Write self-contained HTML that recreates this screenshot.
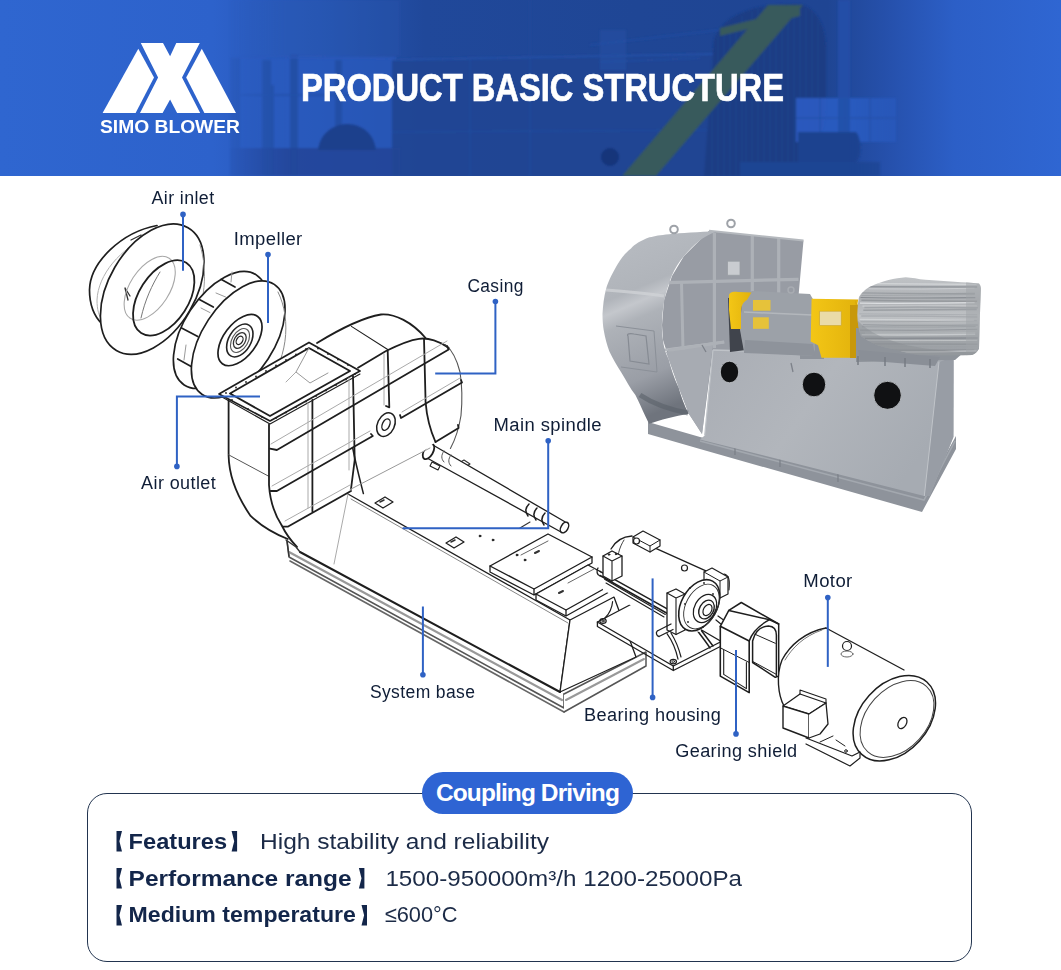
<!DOCTYPE html>
<html><head><meta charset="utf-8">
<style>
html,body{margin:0;padding:0;background:#fff;}
body{width:1061px;height:970px;position:relative;overflow:hidden;font-family:"Liberation Sans",sans-serif;}
#hdr{position:absolute;left:0;top:0;width:1061px;height:176px;overflow:hidden;background:#2d62cb;}
svg{position:absolute;left:0;top:0;}
.lbl{font-family:"Liberation Sans",sans-serif;font-size:18px;fill:#0f1d36;letter-spacing:0.4px;}
#box{position:absolute;left:87px;top:793px;width:885px;height:169px;border:1.5px solid #22344f;border-radius:20px;box-sizing:border-box;}
#pill{position:absolute;left:422px;top:772px;width:211px;height:42px;border-radius:21px;background:#2e64d3;color:#fff;font-weight:bold;font-size:24.5px;line-height:42px;text-align:center;letter-spacing:-0.9px;}
.row{position:absolute;left:113px;height:30px;line-height:30px;color:#1a2a45;font-size:21.5px;white-space:nowrap;}
.row b{font-weight:bold;color:#13264a;}
.br{display:inline-block;position:relative;width:12px;height:20px;vertical-align:middle;}
</style></head>
<body>
<div id="hdr">
<svg width="1061" height="176" viewBox="0 0 1061 176">
<defs>
<linearGradient id="hg" x1="0" x2="1" y1="0" y2="0">
<stop offset="0" stop-color="#2f66d0"/>
<stop offset="0.2" stop-color="#2d62cb"/>
<stop offset="0.235" stop-color="#2b5dc2"/>
<stop offset="0.3" stop-color="#2757b5"/>
<stop offset="0.4" stop-color="#20489a"/>
<stop offset="0.6" stop-color="#1f4695"/>
<stop offset="0.78" stop-color="#1f4593"/>
<stop offset="0.84" stop-color="#2651ad"/>
<stop offset="0.9" stop-color="#2c5fc7"/>
<stop offset="1" stop-color="#2f66d2"/>
</linearGradient>
</defs>
<rect width="1061" height="176" fill="url(#hg)"/>
<!-- header photo overlay -->
<defs><filter id="hblur" x="-5%" y="-5%" width="110%" height="110%"><feGaussianBlur stdDeviation="1.3"/></filter>
<linearGradient id="mgrad" x1="0" x2="1061" y1="0" y2="0" gradientUnits="userSpaceOnUse">
<stop offset="0.2" stop-color="#000"/><stop offset="0.27" stop-color="#fff"/><stop offset="0.8" stop-color="#fff"/><stop offset="0.9" stop-color="#000"/>
</linearGradient>
<mask id="hmask" maskUnits="userSpaceOnUse" x="0" y="0" width="1061" height="176"><rect width="1061" height="176" fill="url(#mgrad)"/></mask></defs>
<g mask="url(#hmask)"><g filter="url(#hblur)">
 <!-- top darker band in the middle -->
 <rect x="230" y="0" width="170" height="56" fill="#2552ae" opacity="0.35"/>
 <!-- window wall left -->
 <rect x="240" y="58" width="152" height="90" fill="#2a5abd" opacity="0.7"/>
 <g fill="#234ea4" opacity="0.9">
  <rect x="230" y="58" width="10" height="118"/>
  <rect x="262" y="60" width="9" height="116"/>
  <rect x="290" y="55" width="8" height="121"/>
  <rect x="335" y="60" width="7" height="90"/>
  <rect x="264" y="85" width="10" height="91"/>
 </g>
 <path d="M230 57 L396 58" stroke="#2a58b8" stroke-width="2"/>
 <path d="M240 95 L392 95" stroke="#2550aa" stroke-width="1.5"/>
 <!-- foreground bottom -->
 <rect x="230" y="148" width="170" height="28" fill="#21479a" opacity="0.9"/>
 <path d="M318 150 C320 132 335 124 347 124 C360 124 374 132 376 150 Z" fill="#1d418c"/>
 <!-- building right of window -->
 <path d="M392 60 L470 58 L720 55 L720 176 L392 176 Z" fill="#1f4592" opacity="0.8"/>
 <path d="M392 60 L720 54" stroke="#2752ab" stroke-width="1.5"/>
 <path d="M392 132 L720 130" stroke="#2650a6" stroke-width="1.2" opacity="0.7"/>
 <path d="M470 58 L470 176 M530 0 L530 176" stroke="#244da0" stroke-width="1.2" opacity="0.8"/>
 <circle cx="610" cy="157" r="9" fill="#17357a"/>
 <rect x="600" y="30" width="26" height="40" fill="#2450a3" opacity="0.6"/>
 <path d="M590 45 L720 30 M600 62 L700 58" stroke="#2550a8" stroke-width="1.5" opacity="0.7"/>
 <!-- mesh guard oval -->
 <path d="M704 176 L714 40 C722 15 755 4 795 4 C815 4 826 25 826 50 L826 110 C826 140 805 165 775 176 Z" fill="#1c3c84"/>
 <g stroke="#244a98" stroke-width="1" opacity="0.6">
  <path d="M712 60 V176 M718 34 V176 M724 26 V176 M730 30 V176 M736 22 V176 M742 16 V176 M746 20 V176 M752 12 V176 M758 8 V176 M764 6 V176 M770 5 V176 M776 5 V176 M782 5 V172 M788 5 V168 M794 5 V164 M800 5 V160 M806 7 V154 M812 12 V146 M818 20 V134"/>
 </g>
 <!-- green belt band -->
 <path d="M622 176 L656 176 L803 5 L768 5 Z" fill="#385a5c"/>
 <path d="M720 28 L800 8 L800 16 L720 36 Z" fill="#385a5c"/>
 <!-- right window -->
 <rect x="796" y="98" width="100" height="44" fill="#2b5ec6" opacity="0.85"/>
 <g stroke="#2552ac" stroke-width="1.5">
  <path d="M820 98 V142 M845 98 V142 M870 98 V142 M796 118 H896"/>
 </g>
 <!-- pole -->
 <rect x="838" y="0" width="12" height="135" fill="#2350a8" opacity="0.9"/>
 <!-- motor cylinder -->
 <path d="M798 132 L856 132 C862 138 862 158 856 162 L798 162 Z" fill="#1e428f"/>
 <rect x="740" y="162" width="140" height="14" fill="#1f4593"/>
</g></g>

</svg>
</div>
<svg width="1061" height="970" viewBox="0 0 1061 970">
<!-- ===== line drawing: inlet + impeller ===== -->
<g id="drawing1" fill="none" stroke-linejoin="round" stroke-linecap="round">
<!-- air inlet back ring -->
<path d="M157 225.5 C122 232 90 262 89.5 290 C89.5 304 94 316 102 324" stroke="#1e1e1e" stroke-width="1.7"/>
<path d="M150 236 C120 248 98 275 97 300 C97 310 99 316 102 320" stroke="#b0b0b0" stroke-width="1"/>
<ellipse cx="152.2" cy="289.1" rx="43.3" ry="71" transform="rotate(30.3 152.2 289.1)" fill="#fff" stroke="#1e1e1e" stroke-width="1.7"/>
<path d="M200 245 C208 270 206 305 190 330" stroke="#9a9a9a" stroke-width="1"/>
<path d="M130 296 l-5 -8 l3 12 M131 240 l10 -5" stroke="#333" stroke-width="1.3"/>
<ellipse cx="149.7" cy="288.3" rx="19.7" ry="35.8" transform="rotate(33 149.7 288.3)" stroke="#a8a8a8" stroke-width="1.1"/>
<ellipse cx="163.7" cy="297.9" rx="24.7" ry="41.8" transform="rotate(32.7 163.7 297.9)" stroke="#1e1e1e" stroke-width="1.8"/>
<path d="M141 318 C145 300 152 285 160 272" stroke="#777" stroke-width="1"/>

<!-- impeller -->
<ellipse cx="220.2" cy="329.9" rx="35.7" ry="65.8" transform="rotate(33.2 220.2 329.9)" fill="#fff" stroke="#1e1e1e" stroke-width="1.7"/>
<g stroke="#1e1e1e" stroke-width="1.7">
 <path d="M221 279.3 L235 287 M199.4 299.4 L213.3 307.1 M181.6 328 L197.8 336.5 M177.7 359 L191.6 366.7"/>
</g>
<path d="M216 293 L225.6 297 M201 308 L210 312.6 M186 345 l-2 15 M232 272 l-1 10" stroke="#9a9a9a" stroke-width="1"/>
<ellipse cx="238.2" cy="339.4" rx="35.7" ry="65.8" transform="rotate(33.2 238.2 339.4)" fill="#fff" stroke="#1e1e1e" stroke-width="1.7"/>
<path d="M278 292 C292 320 288 362 262 392" stroke="#888" stroke-width="1"/>
<ellipse cx="240" cy="340.1" rx="16.4" ry="29.5" transform="rotate(36.8 240 340.1)" stroke="#1e1e1e" stroke-width="1.7"/>
<ellipse cx="239.8" cy="340.5" rx="11.1" ry="17.9" transform="rotate(30.5 239.8 340.5)" stroke="#222" stroke-width="1.6"/>
<ellipse cx="240" cy="340.5" rx="8" ry="13" transform="rotate(30.5 240 340.5)" stroke="#555" stroke-width="1.1"/>
<ellipse cx="239.8" cy="340.5" rx="5.5" ry="8.5" transform="rotate(30.5 239.8 340.5)" stroke="#333" stroke-width="1.3"/>
<ellipse cx="239.6" cy="340.4" rx="3" ry="4.5" transform="rotate(30.5 239.6 340.4)" stroke="#222" stroke-width="1.2"/>
</g>
<!-- ===== casing + base + spindle ===== -->
<g id="drawing2" fill="none" stroke-linejoin="round" stroke-linecap="round">
<!-- base (drawn first) -->
<g stroke="#1e1e1e">
 <!-- skid -->
 <path d="M287 541 L289 557 L564 708 L564 694" stroke="#555" stroke-width="1.6" fill="#fff"/>
 <path d="M289 552 L562 700" stroke="#999" stroke-width="2.2"/>
 <path d="M290 561 L564 712" stroke="#666" stroke-width="1.6"/>
 <path d="M564 694 L646 652 L646 666 L564 712" stroke="#555" stroke-width="1.5" fill="#fff"/>
 <path d="M566 700 L644 659" stroke="#999" stroke-width="2"/>
 <!-- front face -->
 <path d="M348 494 L570 620 L560 692 L300 552 Z" fill="#fff" stroke="none"/>
 <path d="M348 494 L570 620 L560 692" stroke-width="1.3"/>
 <path d="M300 552 L560 692" stroke-width="2"/>
 <path d="M351 499 L568 623" stroke="#777" stroke-width="0.9"/>
 <path d="M348 494 L334 564" stroke="#aaa" stroke-width="1"/>
 <!-- right end -->
 <path d="M570 620 L614 597 L636 657 L560 692 Z" fill="#fff" stroke-width="1.3"/>
 <!-- top surface back edge -->
 
 <!-- pads -->
 <path d="M490 566 L548 534 L592 557 L534 589 Z" fill="#fff" stroke-width="1.4"/>
 <path d="M490 566 L490 572 L534 595 L592 563 L592 557 M534 589 L534 595" stroke-width="1.3"/>
 <path d="M521 555 L548 541" stroke="#666" stroke-width="1"/>
 <path d="M536 594 L588 565 L618 581 L566 610 Z" fill="#fff" stroke-width="1.4"/>
 <path d="M536 594 L536 600 L566 616 L618 587 L618 581 M566 610 L566 616" stroke-width="1.3"/>
 <path d="M568 583 L594 569" stroke="#666" stroke-width="1"/>
 <path d="M535 553 l4 -2 M559 593 l4 -2" stroke="#333" stroke-width="2"/>
 <!-- small plates on base top -->
 <path d="M375 503 L385 497 L393 502 L383 508 Z M446 543 L456 537 L464 542 L454 548 Z" fill="#fff" stroke-width="1.3"/>
 <path d="M380 502 l4 -2 M451 542 l4 -2" stroke="#333" stroke-width="1.6"/>
 <path d="M452 467 L464 460 L470 464 L458 471 Z M520 528 L530 522" stroke="#333" stroke-width="1.1"/>
 <circle cx="480" cy="536" r="0.9" fill="#222"/><circle cx="493" cy="540" r="0.9" fill="#222"/>
 <circle cx="517" cy="555" r="0.9" fill="#222"/><circle cx="525" cy="560" r="0.9" fill="#222"/>
</g>
<!-- spindle -->
<g stroke="#1e1e1e">
 <path d="M432 444.5 L567 523 L561 532 L427 458 Z" fill="#fff" stroke-width="1.3"/>
 <ellipse cx="428.5" cy="451.5" rx="4.5" ry="8.5" transform="rotate(30 428.5 451.5)" fill="#fff" stroke-width="1.8"/>
 <ellipse cx="564.5" cy="527.5" rx="3.5" ry="5.8" transform="rotate(30 564.5 527.5)" fill="#fff" stroke-width="1.5"/>
 <path d="M529 504 C525 508 525 512 528 516 M537 508 C533 512 533 516 536 520 M545 513 C541 517 541 521 544 525" stroke-width="1.5"/>
 <path d="M444 451 C441 455 441 459 444 462 M451 455 C448 459 448 463 451 466" stroke="#555" stroke-width="1"/>
 <path d="M432 462 L440 466 L438 470 L430 466 Z" stroke-width="1.1"/>
</g>
<!-- casing -->
<g stroke="#1e1e1e" stroke-width="1.8">
 <!-- silhouette fill -->
 <path d="M219 394 L309 342.4 L320 341.3 C335 332 360 318 381 314.5 C395 314 410 322 425.6 338 C435 340 442 343 448.7 347.9 C455 355 460 372 462 390.8 C462 410 458 430 450.4 448.5 L435.5 442 L372 490 L351 489 L297 546.8 L288 540 C265 527 240 505 232 480 C229 470 228.6 460 228.6 455.6 L228.6 400 Z" fill="#fff" stroke="none"/>
 <!-- back top curve -->
 <path d="M317 343 C335 332 360 318 381 314.5 C395 313.5 412 322 425.6 338"/>
 <path d="M351.4 326.4 L387.7 349.5" stroke-width="1.1"/>
 <!-- front top curve -->
 <path d="M358 367.7 L386 351 C398 345 410 340 419 338.8 C428 337.5 440 341 448.7 347.9"/>
 <!-- right outer curve (gray) -->
 <path d="M445.4 344.6 C452 350 457 360 460 372 C462 385 462.5 400 461 415.5 C459 428 455 440 450.4 448.5" stroke="#555" stroke-width="1.1"/>
 <!-- front right vertical edge -->
 <path d="M424 338.8 L425.6 402.3 C427 420 431 432 435.5 442"/>
 <!-- flange -->
 <path d="M219 394 L309 342.4 L360 371 L270 421 Z" fill="#fff" stroke-width="1.7"/>
 <path d="M222 397 L270 424 L360 374" stroke-width="1.1"/>
 <path d="M230 393.5 L309 348 L350 371 L270 416 Z" stroke-width="1.9"/>
 <g fill="#222" stroke="none">
  <circle cx="226" cy="393" r="0.9"/><circle cx="236" cy="387.5" r="0.9"/><circle cx="246" cy="382" r="0.9"/><circle cx="256" cy="376.5" r="0.9"/><circle cx="266" cy="371" r="0.9"/><circle cx="276" cy="365.5" r="0.9"/><circle cx="286" cy="360" r="0.9"/><circle cx="296" cy="354.5" r="0.9"/><circle cx="306" cy="349" r="0.9"/>
  <circle cx="318" cy="348.5" r="0.9"/><circle cx="328" cy="354" r="0.9"/><circle cx="338" cy="359.5" r="0.9"/><circle cx="348" cy="365" r="0.9"/>
  <circle cx="276" cy="418" r="0.9"/><circle cx="286" cy="412.5" r="0.9"/><circle cx="296" cy="407" r="0.9"/><circle cx="306" cy="401.5" r="0.9"/><circle cx="316" cy="396" r="0.9"/><circle cx="326" cy="390.5" r="0.9"/><circle cx="336" cy="385" r="0.9"/><circle cx="346" cy="379.5" r="0.9"/><circle cx="355" cy="374" r="0.9"/>
  <circle cx="232" cy="400" r="0.9"/><circle cx="248" cy="409" r="0.9"/><circle cx="262" cy="417" r="0.9"/>
 </g>
 <!-- inside of outlet (gray) -->
 <path d="M309 348 L296 372 L310 383 L328 373" stroke="#999" stroke-width="1"/>
 <path d="M296 372 L286 382" stroke="#aaa" stroke-width="1"/>
 <!-- outlet duct left side -->
 <path d="M228.6 400 L228.6 455.6 C229 475 236 495 250.6 515.9 C258 523 270 532 287.7 539"/>
 <path d="M228.6 454.8 L269 476.4" stroke="#555" stroke-width="1"/>
 <!-- front corner -->
 <path d="M269 424.6 L269 485 C270 500 275 515 281.5 525 C285 532 290 540 297 546.8"/>
 <!-- vertical ribs -->
 <path d="M312.4 400 L312.4 511.2"/>
 <path d="M308 403 L308 508" stroke="#aaa" stroke-width="1"/>
 <path d="M353 376 L354.7 460 L351 489" />
 <path d="M349 378 L349 470" stroke="#aaa" stroke-width="1"/>
 <path d="M387.7 351 L389.3 407.3 L386 406"/>
 <path d="M384 354 L384 405" stroke="#aaa" stroke-width="1"/>
 <!-- horizontal ribs -->
 <path d="M270 448.6 L276.9 450 L448.7 349.5 L447 346"/>
 <path d="M271 444 L447 341" stroke="#aaa" stroke-width="1"/>
 <path d="M270.7 491 L276.9 491 L372.8 436 L371 434"/>
 <path d="M272 486 L370 431" stroke="#aaa" stroke-width="1"/>
 <path d="M400 415 L401 418 L462 382.5 L461 380"/>
 <path d="M402 412 L460 378" stroke="#aaa" stroke-width="1"/>
 <path d="M283 526.7 L287.7 526.7 L351 491"/>
 <path d="M285 521 L350 485" stroke="#aaa" stroke-width="1"/>
 <path d="M435.5 442 L458.6 428 L458 425"/>
 <!-- boss -->
 <ellipse cx="386" cy="424.6" rx="8.5" ry="12.4" transform="rotate(25 386 424.6)" fill="#fff" stroke-width="1.5"/>
 <ellipse cx="386" cy="424.6" rx="3.6" ry="6" transform="rotate(25 386 424.6)" stroke-width="1.4"/>
 <!-- inner scroll side going down -->
 <path d="M352.7 448 C356 465 360 480 363.4 493.6" stroke-width="1.5"/>
 <path d="M350 489.6 L430 448" stroke="#999" stroke-width="1"/>
 
</g>
<!-- skid left end -->
<path d="M286 540 L296 547 L300 552 M289 556 L287 541" stroke="#333" stroke-width="1.4" fill="none"/>
</g>
<!-- ===== bearing housing, shield, motor ===== -->
<g id="drawing3" fill="none" stroke-linejoin="round" stroke-linecap="round">
<g stroke="#1e1e1e">
 <!-- bearing housing base plate -->
 <path d="M597.4 622 L645 597 L721.3 641.5 L673.3 666 Z" fill="#fff" stroke-width="1.4"/>
 <path d="M597.4 622 L597.4 626.5 L673.3 670.5 L721.3 646 L721.3 641.5 M673.3 666 L673.3 670.5" stroke-width="1.3"/>
 <ellipse cx="603" cy="621" rx="3.2" ry="2.3" stroke-width="1.2"/><ellipse cx="603" cy="621" rx="1.3" ry="0.9" stroke-width="0.9"/>
 <ellipse cx="673.3" cy="661.6" rx="3.2" ry="2.3" stroke-width="1.2"/><ellipse cx="673.3" cy="661.6" rx="1.3" ry="0.9" stroke-width="0.9"/>
 <!-- pedestal feet -->
 <path d="M667 633.7 C673 642 676 650 678 659.2 M671 633 C676 641 679 649 681 657" stroke-width="1.2"/>
 <path d="M697.3 630.5 C702 637 706 642 710 648 M701 630 L713 646" stroke-width="1.5"/>
 <path d="M612.6 601.7 C612 608 609 614 605 618" stroke-width="1.2"/>
 <!-- body -->
 <path d="M608 552 C613 541 622 536 632 535 L662 545 L707 571.3 L716 600 L700 632 L672 628 L603 590 L601 572 Z" fill="#fff" stroke="none"/>
 <path d="M611 549 C616 540 624 536.5 632 536" stroke-width="1.3"/>
 <path d="M643 542.6 L707 571.3" stroke-width="1.3"/>
 <path d="M624 540 C619 548 617 556 618 566" stroke="#444" stroke-width="1"/>
 <!-- oil rail / body bottom -->
 <path d="M600 571.3 L671.7 611.3 M600 575.5 L670 615" stroke-width="1.5"/>
 <path d="M604.6 579.3 L665.3 614.5 M606 583 L664 617" stroke-width="1.1"/>
 <path d="M598 568 C596 571 597 575 600 576" stroke-width="1.3"/>
 <path d="M671.7 611.3 C675 611 677 608 676 604" stroke-width="1.3"/>
 <!-- left cap block -->
 <path d="M603 556 L612 551 L622 556 L622 576 L612 581 L603 576 Z" fill="#fff" stroke-width="1.3"/>
 <path d="M603 556 L612 561 L622 556 M612 561 L612 581" stroke-width="1.1"/>
 <circle cx="609" cy="554.5" r="0.8" fill="#222"/><circle cx="616" cy="554" r="0.8" fill="#222"/>
 <!-- top cap block -->
 <path d="M633 537 L643 531 L660 540 L660 546 L650 552 L633 543 Z" fill="#fff" stroke-width="1.2"/>
 <path d="M633 537 L650 546 L660 540 M650 546 L650 552" stroke-width="1"/>
 <circle cx="636.5" cy="541" r="3" fill="#fff" stroke-width="1.2"/>
 <circle cx="684.5" cy="568" r="3" fill="#fff" stroke-width="1.2"/>
 <!-- top-right cap block -->
 <path d="M704 572 L712 568 L728 577 L728 594 L720 598 L704 589 Z" fill="#fff" stroke-width="1.2"/>
 <path d="M704 572 L720 581 L728 577 M720 581 L720 598" stroke-width="1"/>
 <path d="M724 574 C729 575 730 580 729 590" stroke-width="1.1"/>
 <!-- right cap block -->
 <path d="M667 593 L676 589 L685 594 L685 630 L676 634.5 L667 630 Z" fill="#fff" stroke-width="1.3"/>
 <path d="M667 593 L676 598 L685 594 M676 598 L676 634.5" stroke-width="1.1"/>
 <!-- pin -->
 <path d="M657.3 631 L671 624 M659 636.5 L673 629.5 M657.3 631 C655.5 632.5 656.5 636 659 636.5" stroke-width="1.3"/>
 <!-- front flange -->
 <ellipse cx="699.2" cy="605.3" rx="17.8" ry="27.6" transform="rotate(29 699.2 605.3)" fill="#fff" stroke-width="1.6"/>
 <ellipse cx="701.5" cy="606.5" rx="15.5" ry="24" transform="rotate(29 701.5 606.5)" stroke="#333" stroke-width="0.9"/>
 <ellipse cx="705" cy="608.5" rx="10.5" ry="15" transform="rotate(29 705 608.5)" stroke-width="1.2"/>
 <ellipse cx="706.5" cy="609.5" rx="7" ry="10" transform="rotate(29 706.5 609.5)" stroke-width="1.4"/>
 <ellipse cx="707.5" cy="610" rx="4" ry="6" transform="rotate(29 707.5 610)" stroke-width="1.2"/>
 <g fill="#222" stroke="none"><circle cx="690" cy="588" r="0.9"/><circle cx="704" cy="583" r="0.9"/><circle cx="713" cy="594" r="0.9"/><circle cx="714" cy="614" r="0.9"/><circle cx="703" cy="627" r="0.9"/><circle cx="688" cy="622" r="0.9"/><circle cx="685" cy="604" r="0.9"/></g>
 <path d="M716 620 L722 625 M718 616 L725 621" stroke-width="1.2"/>
 <!-- gearing shield -->
 <path d="M720.3 626.3 L728.8 610.4 L741.3 602.5 L778.7 624.0 L778.7 676.1 L775.3 677.3 L752.6 662.5 L749.2 692.6 L720.3 676.1 Z" fill="#fff" stroke="none"/>
 <path d="M720.3 626.3 L720.3 676.1 L749.2 692.6 L749.2 641.0 Z" fill="#fff" stroke-width="1.6"/>
 <path d="M720.3 626.3 L728.8 610.4 L741.3 602.5 L778.7 624.0 L778.7 676.1 L775.3 677.3 L752.6 662.5 L752.6 641.0 C754.9 631.9 760.5 626.3 768.5 626.0 C773.6 626.3 776.4 629.7 776.4 635.3 L776.4 676.1" fill="none" stroke-width="1.5"/>
 <path d="M728.8 610.4 L769.6 619.7 L778.7 624.0" fill="none" stroke-width="1.5"/>
 <path d="M749.2 641.0 C751.5 634.2 757.1 626.3 769.6 619.7" fill="none" stroke-width="1.5"/>
 <path d="M723.7 650.1 L723.7 674.4 L746.4 688.6 L746.4 662.5" fill="none" stroke-width="1.1"/>
 <path d="M720.3 647.8 L749.2 662.5" fill="none" stroke-width="1.0"/>
 <path d="M754.9 634.2 L775.3 643.3" fill="none" stroke-width="1.0"/>
 <path d="M752.6 661.4 L776.4 674.4" fill="none" stroke-width="1.0"/>
 <!-- motor -->
 <path d="M826 628 L904 670 L852 730 L880 763 L800 722 C790 715 780 700 778 682 C777 660 800 635 826 628 Z" fill="#fff" stroke="none"/>
 <path d="M826 628 C805 632 790 645 782 660 C776 675 778 695 784 706" stroke-width="1.4"/>
 <path d="M822 630 C804 636 792 648 785 660" stroke="#777" stroke-width="1"/>
 <path d="M826 628 L904 670" stroke-width="1.3"/>
 <ellipse cx="894.3" cy="718.2" rx="33.9" ry="48.7" transform="rotate(42 894.3 718.2)" fill="#fff" stroke-width="1.5"/>
 <ellipse cx="897" cy="719" rx="30" ry="44" transform="rotate(42 897 719)" stroke="#444" stroke-width="1"/>
 <ellipse cx="902.4" cy="723" rx="4" ry="6" transform="rotate(30 902.4 723)" stroke-width="1.3"/>
 <!-- eye bolt -->
 <circle cx="847" cy="646" r="4.5" fill="#fff" stroke-width="1.2"/>
 <ellipse cx="847" cy="654" rx="6" ry="3" stroke="#666" stroke-width="1"/>
 <!-- terminal box -->
 <path d="M783 706 L800 694 L826 703 L809 714 Z" fill="#fff" stroke-width="1.3"/>
 <path d="M783 706 L809 714 L809 738 L783 728 Z" fill="#fff" stroke-width="1.4"/>
 <path d="M809 714 L826 703 L828 724 L820 734 L809 738" fill="#fff" stroke-width="1.3"/>
 <path d="M800 694 L800 690 L826 699 L826 703" stroke-width="1.1"/>
 <!-- feet -->
 <path d="M806 738 L852 756 L860 752 L860 758 L850 766 L806 744" fill="#fff" stroke-width="1.2"/>
 <path d="M820 742 L833 736 M836 740 L845 746" stroke-width="1"/>
 <circle cx="846" cy="751" r="1.3" stroke-width="1"/>
</g>
</g>

<!-- ===== photo: fan ===== -->
<g id="photo">
<defs>
 <linearGradient id="scrollSide" x1="0" y1="0" x2="0.25" y2="1">
  <stop offset="0" stop-color="#b9bdc3"/>
  <stop offset="0.35" stop-color="#b0b4ba"/>
  <stop offset="0.42" stop-color="#c4c7cc"/>
  <stop offset="0.5" stop-color="#aeb2b8"/>
  <stop offset="0.8" stop-color="#9a9ea6"/>
  <stop offset="1" stop-color="#6f747d"/>
 </linearGradient>
 <linearGradient id="baseFront" x1="0" y1="0" x2="1" y2="0.4">
  <stop offset="0" stop-color="#a9adb4"/>
  <stop offset="0.5" stop-color="#b2b6bc"/>
  <stop offset="1" stop-color="#a6abb2"/>
 </linearGradient>
 <linearGradient id="motorG" x1="0" y1="0" x2="0" y2="1">
  <stop offset="0" stop-color="#c2c5c8"/>
  <stop offset="0.3" stop-color="#aeb1b5"/>
  <stop offset="0.5" stop-color="#bfc2c5"/>
  <stop offset="0.75" stop-color="#a3a7ab"/>
  <stop offset="1" stop-color="#9a9ea3"/>
 </linearGradient>
 <linearGradient id="yel" x1="0" y1="0" x2="1" y2="0">
  <stop offset="0" stop-color="#f3c616"/>
  <stop offset="1" stop-color="#e2b20c"/>
 </linearGradient>
</defs>
<!-- skid frame -->
<path d="M648 422 L700 437 L924 494 L956 436 L956 449 L922 512 L700 449 L648 434 Z" fill="#8e939b"/>
<path d="M700 441 L924 500 L955 441" stroke="#a3a8af" stroke-width="1.5" fill="none"/>
<path d="M735 446 L735 455 M780 458 L780 467 M838 472 L838 482" stroke="#7a7f87" stroke-width="1.2"/>
<!-- scroll front face (behind) -->
<path d="M709 230.7 L803.5 240.6 L798.5 296 L745 298 L746 352 L713 350 L702 434 L689 414 L679 388 L669 359 L663 340 L662 325 L664 300 L672 276 L684 256 L699 241 Z" fill="#989ca4"/>
<!-- cone lower -->
<path d="M666 352 L713 344 L702 434 L689 414 L679 388 Z" fill="#a7abb2"/>
<path d="M664 350 L724 342" stroke="#b7bbc0" stroke-width="2.5"/>
<!-- ribs on scroll front -->
<g stroke="#adb1b7" stroke-width="3.2" fill="none">
 <path d="M714.4 233 L714.4 348"/>
 <path d="M752.3 236 L752.3 296"/>
 <path d="M778.7 238 L778.7 296"/>
 <path d="M668 282.6 L798.5 279.3"/>
 <path d="M681.5 283 L683 350" stroke-width="3"/>
 <path d="M668 350.3 L724.3 342"/>
</g>
<rect x="727.6" y="261.2" width="12.4" height="14" fill="#c9ccd0" stroke="#9a9ea4" stroke-width="0.8"/>
<path d="M709 230.7 L803.5 240.6" stroke="#b5b9be" stroke-width="2"/>
<!-- scroll side -->
<path d="M716 231 C700 232 680 233 669 234.2 C660 235 655 236 649.5 237.3 C640 241 635 244 631 248.5 C624 254 620 260 616 267 C611 276 608 282 606 289.3 C604 297 603 305 602.5 314 C602.5 320 603 326 603.7 330 C605 338 607 345 609.4 351.6 C613 359 617 366 621 371.9 C626 380 630 388 635.4 395 C639 402 642 409 645.5 416.6 L649 423.8 C660 420 675 416 688.8 413.7 C684 405 681 396 678.7 387.7 C674 378 671 368 668.6 358.9 C665 352 663.5 346 663 340 C662 335 661.9 330 661.9 325 C662 316 663 308 664.3 300.4 C666 292 669 283 671.8 275.7 C675 268 679 262 684 256 C689 250 694 245 699 241 C704 237 710 234 716 231.8 Z" fill="url(#scrollSide)"/>
<path d="M606 290 C630 292 650 294 664 296" stroke="#cfd2d6" stroke-width="3" fill="none" opacity="0.8"/>
<path d="M640 395 C655 405 672 410 688 413" stroke="#5a6069" stroke-width="5" fill="none" opacity="0.6"/>
<!-- access door -->
<path d="M616 326 L654 331 L657 372 L621 367" fill="none" stroke="#8b9098" stroke-width="1"/>
<path d="M628 336 C626 334 630 333 634 334 L646 336 L649 364 L630 361 Z" fill="none" stroke="#868b93" stroke-width="1.2"/>
<!-- lugs -->
<circle cx="674" cy="229.5" r="3.8" fill="none" stroke="#9ea2a8" stroke-width="2"/>
<circle cx="731" cy="223.5" r="3.8" fill="none" stroke="#9ea2a8" stroke-width="2"/>
<!-- base front face -->
<path d="M713 350 L939 357 L953.6 357 L953.4 437 L929.6 496 L924.3 496 L700 439.4 L704.7 435.4 Z" fill="url(#baseFront)"/>
<path d="M939 362 L953.6 357 L953.4 437 L929.6 496 L924.3 496 Z" fill="#989da5"/>
<path d="M939 362 L924.3 496" stroke="#c0c4c9" stroke-width="1" fill="none"/>
<path d="M713 350 L953 357" stroke="#bfc3c8" stroke-width="1.5" fill="none"/>
<path d="M713 350 L704.7 435.4" stroke="#bfc3c8" stroke-width="1.2" fill="none"/>
<path d="M800 336 L824 336 L824 359 L800 359 Z" fill="#8e939b"/>
<!-- bearing housing -->
<path d="M728 298 L746 296 L746 350 L730 352 Z" fill="#40444c"/>
<path d="M742 296 L752 291 L810 294 L814 301 L815 350 L812 356 L744 352 L740 330 Z" fill="#9ca1a8"/>
<path d="M745 340 L813 344 L815 356 L744 353 Z" fill="#8e939b"/>
<path d="M744 312 L812 315" stroke="#b3b7bc" stroke-width="1.5" fill="none"/>
<rect x="753" y="300" width="17.5" height="10.7" fill="#e6c23a"/>
<rect x="753" y="317.3" width="15.8" height="11.5" fill="#e6c23a"/>
<circle cx="791" cy="290" r="3" fill="none" stroke="#a8acb2" stroke-width="1.5"/>
<!-- yellow left guard -->
<path d="M729 296 C729 292 733 291.5 738 292 L751.5 292.5 L747 300 C743 302 741 306 741 312 L741 329 L731 329 L729 310 Z" fill="url(#yel)"/>
<!-- coupling guard -->
<path d="M811.6 298.7 L858.2 299.5 L856 312 L853.7 347 L850 357.7 L821.5 357.7 L818 345.2 L810.7 341.6 Z" fill="url(#yel)"/>
<path d="M855 300 L862 312 L866 350 L861.9 349.7 Z" fill="#d8a808"/>
<rect x="819.7" y="311.2" width="21.5" height="14.3" fill="#eadba8" stroke="#c9a530" stroke-width="0.6"/>
<!-- behind motor -->
<path d="M850 305 L866 305 L866 358 L850 358 Z" fill="#c8980a"/>
<path d="M856 328 L978 340 L955 360 L856 362 Z" fill="#8e939a"/>
<!-- motor feet -->
<path d="M858 350 L940 357 L935 366 L860 360 Z" fill="#8a8f97"/>
<path d="M858 356 L858 365 M885 357 L885 366 M905 358 L905 367 M930 359 L930 368" stroke="#777c84" stroke-width="1.5"/>
<!-- motor -->
<clipPath id="motorClip"><path d="M859 296.9 C863 291 867 288 871.6 286 C882 281 895 278 905.7 277.2 C912 277.5 918 279 925.4 279.8 C945 281 965 282.5 979 283.4 C981 286 981 288 980.9 289.7 C980 310 979.5 330 979 348.8 C977 352 975 354 972 355 C950 355.5 930 355 914.6 354.2 C900 351 888 348 877 345.2 C870 342 865 339 860.9 336.3 C858.5 330 857.5 322 857.3 314.8 C857.5 308 858 302 859 296.9 Z"/></clipPath>
<g clip-path="url(#motorClip)">
<rect x="855" y="275" width="128" height="82" fill="url(#motorG)"/>
<path d="M868.3 283.6 Q922.4 283.9 976.5 284.4" stroke="#e2e4e6" stroke-width="1.22" opacity="0.64" fill="none"/>
<path d="M868.3 286.7 Q922.8 286.6 977.2 286.9" stroke="#7f848a" stroke-width="1.45" opacity="0.64" fill="none"/>
<path d="M868.8 288.8 Q921.7 289.7 974.5 288.2" stroke="#e2e4e6" stroke-width="0.71" opacity="0.59" fill="none"/>
<path d="M859.3 292.8 Q917.1 294.0 974.9 293.3" stroke="#8c9095" stroke-width="1.35" opacity="0.64" fill="none"/>
<path d="M861.4 295.5 Q918.1 295.1 974.8 294.5" stroke="#9a9ea3" stroke-width="0.82" opacity="0.88" fill="none"/>
<path d="M860.5 297.5 Q917.9 298.5 975.3 297.6" stroke="#7f848a" stroke-width="1.08" opacity="0.83" fill="none"/>
<path d="M861.4 300.3 Q919.3 301.3 977.1 301.2" stroke="#8c9095" stroke-width="1.54" opacity="0.74" fill="none"/>
<path d="M860.0 303.2 Q917.3 303.8 974.6 302.6" stroke="#e2e4e6" stroke-width="1.21" opacity="0.85" fill="none"/>
<path d="M862.4 306.1 Q919.7 306.1 976.9 305.8" stroke="#d6d8da" stroke-width="1.27" opacity="0.64" fill="none"/>
<path d="M864.4 307.6 Q921.2 306.2 977.9 307.8" stroke="#9a9ea3" stroke-width="1.49" opacity="0.78" fill="none"/>
<path d="M863.3 310.3 Q920.0 309.7 976.7 309.4" stroke="#8c9095" stroke-width="1.60" opacity="0.65" fill="none"/>
<path d="M859.2 313.9 Q918.2 314.4 977.2 314.8" stroke="#9a9ea3" stroke-width="0.94" opacity="0.55" fill="none"/>
<path d="M861.2 316.1 Q919.3 315.8 977.4 316.9" stroke="#9a9ea3" stroke-width="1.48" opacity="0.59" fill="none"/>
<path d="M859.6 319.4 Q916.9 320.0 974.1 320.3" stroke="#e2e4e6" stroke-width="1.27" opacity="0.54" fill="none"/>
<path d="M860.5 321.7 Q918.7 321.9 976.8 320.7" stroke="#8c9095" stroke-width="1.07" opacity="0.41" fill="none"/>
<path d="M862.8 324.7 Q920.3 325.9 977.8 324.9" stroke="#7f848a" stroke-width="1.02" opacity="0.57" fill="none"/>
<path d="M861.9 326.8 Q918.8 327.2 975.6 326.4" stroke="#7f848a" stroke-width="1.03" opacity="0.41" fill="none"/>
<path d="M860.1 330.1 Q918.7 330.9 977.3 329.3" stroke="#8c9095" stroke-width="0.94" opacity="0.82" fill="none"/>
<path d="M864.8 333.1 Q920.0 334.0 975.3 332.6" stroke="#c4c7ca" stroke-width="0.90" opacity="0.56" fill="none"/>
<path d="M861.6 334.8 Q918.4 335.3 975.2 334.2" stroke="#d6d8da" stroke-width="1.55" opacity="0.70" fill="none"/>
<path d="M864.8 338.5 Q921.2 338.3 977.7 337.9" stroke="#7f848a" stroke-width="1.50" opacity="0.73" fill="none"/>
<path d="M862.2 340.1 Q919.7 341.0 977.2 340.4" stroke="#e2e4e6" stroke-width="0.95" opacity="0.49" fill="none"/>
<path d="M861.1 343.9 Q919.3 343.8 977.5 344.2" stroke="#8c9095" stroke-width="1.46" opacity="0.66" fill="none"/>
<path d="M868.4 345.8 Q923.1 347.1 977.9 346.5" stroke="#9a9ea3" stroke-width="0.70" opacity="0.48" fill="none"/>
<path d="M867.6 349.6 Q920.9 350.6 974.2 349.9" stroke="#7f848a" stroke-width="1.37" opacity="0.51" fill="none"/>
<path d="M866.7 351.5 Q921.7 352.9 976.6 350.8" stroke="#c4c7ca" stroke-width="1.47" opacity="0.83" fill="none"/>
<rect x="966" y="280" width="16" height="78" fill="#9fa3a8" opacity="0.5"/>
<path d="M857 320 C880 345 930 352 980 352 L980 358 L857 358 Z" fill="#8a8e93" opacity="0.45"/>
</g>
<!-- holes -->
<ellipse cx="729.5" cy="372" rx="9.2" ry="10.8" fill="#101113" stroke="#c8cbcf" stroke-width="0.8"/>
<ellipse cx="814" cy="384.5" rx="11.7" ry="12.3" fill="#101113" stroke="#c8cbcf" stroke-width="0.8"/>
<ellipse cx="887.5" cy="395.3" rx="13.8" ry="14" fill="#101113" stroke="#c8cbcf" stroke-width="0.8"/>
<path d="M702 345 L706 352 M791 363 L793 372" stroke="#7d828a" stroke-width="1.3"/>
</g>

<!-- logo -->
<g fill="#fff">
<polygon points="102.6,113.1 138.3,48.7 154,77.6 135.6,113.1"/>
<polygon points="140.8,43.1 163,43.1 170.1,56.2 176.3,43.1 199.8,43.1 182,77.6 200.2,113.1 177.1,113.1 170.1,99.5 162.6,113.1 140,113.1 158.1,77.6"/>
<polygon points="201.8,48.7 236,113.1 204.4,113.1 186.2,77.6"/>
</g>
<text x="100" y="133" fill="#fff" font-family="Liberation Sans" font-weight="bold" font-size="19" textLength="140" lengthAdjust="spacingAndGlyphs">SIMO BLOWER</text>
<text x="301" y="101" fill="#fff" stroke="#fff" stroke-width="0.7" font-family="Liberation Sans" font-weight="bold" font-size="38.5" textLength="483" lengthAdjust="spacingAndGlyphs">PRODUCT BASIC STRUCTURE</text>

<!-- labels -->
<g class="lbl">
<text x="151.5" y="204" textLength="63" lengthAdjust="spacingAndGlyphs">Air inlet</text>
<text x="233.7" y="244.5" textLength="69" lengthAdjust="spacingAndGlyphs">Impeller</text>
<text x="467.4" y="291.5" textLength="56.4" lengthAdjust="spacingAndGlyphs">Casing</text>
<text x="493.6" y="430.8" textLength="108.4" lengthAdjust="spacingAndGlyphs">Main spindle</text>
<text x="141.1" y="489.3" textLength="75" lengthAdjust="spacingAndGlyphs">Air outlet</text>
<text x="369.9" y="697.5" textLength="105.5" lengthAdjust="spacingAndGlyphs">System base</text>
<text x="584.1" y="721.2" textLength="137.2" lengthAdjust="spacingAndGlyphs">Bearing housing</text>
<text x="675.2" y="757" textLength="122.4" lengthAdjust="spacingAndGlyphs">Gearing shield</text>
<text x="803.3" y="587.4" textLength="49.4" lengthAdjust="spacingAndGlyphs">Motor</text>
</g>
<!-- leader lines -->
<g stroke="#2f62c4" stroke-width="2" fill="none">
<path d="M183 214.4V270.8"/>
<path d="M268 254.6V323"/>
<path d="M495.4 301.5V373.6H435.2"/>
<path d="M548.2 440.8V528.3H402.6"/>
<path d="M176.9 466.4V396.6H260"/>
<path d="M422.9 674.7V606.5"/>
<path d="M652.6 697.4V578.4"/>
<path d="M736 733.9V650"/>
<path d="M827.8 597.6V666.9"/>
</g>
<g fill="#2f62c4">
<circle cx="183" cy="214.4" r="2.8"/>
<circle cx="268" cy="254.6" r="2.8"/>
<circle cx="495.4" cy="301.5" r="2.8"/>
<circle cx="548.2" cy="440.8" r="2.8"/>
<circle cx="176.9" cy="466.4" r="2.8"/>
<circle cx="422.9" cy="674.7" r="2.8"/>
<circle cx="652.6" cy="697.4" r="2.8"/>
<circle cx="736" cy="733.9" r="2.8"/>
<circle cx="827.8" cy="597.6" r="2.8"/>
</g>
</svg>

<div id="box"></div>
<div id="pill">Coupling Driving</div>
<svg width="1061" height="970" viewBox="0 0 1061 970" style="pointer-events:none">
<g fill="#13264a" font-family="Liberation Sans">
<polygon points="116.5,831 122.0,831 119.4,841.2 122.0,851.4 116.5,851.4"/>
<text x="128.6" y="848.8" font-size="22" font-weight="bold" textLength="98.5" lengthAdjust="spacingAndGlyphs">Features</text>
<polygon points="237.1,831 231.6,831 234.2,841.2 231.6,851.4 237.1,851.4"/>
<text x="260" y="848.8" font-size="22.5" fill="#1c2b47" textLength="289" lengthAdjust="spacingAndGlyphs">High stability and reliability</text>
<polygon points="116.5,868 122.0,868 119.4,878.25 122.0,888.5 116.5,888.5"/>
<text x="128.6" y="885.7" font-size="22" font-weight="bold" textLength="223" lengthAdjust="spacingAndGlyphs">Performance range</text>
<polygon points="364.4,868 358.9,868 361.5,878.25 358.9,888.5 364.4,888.5"/>
<text x="385.4" y="885.7" font-size="22.5" fill="#1c2b47" textLength="356.6" lengthAdjust="spacingAndGlyphs">1500-950000m³/h  1200-25000Pa</text>
<polygon points="116.5,905 122.0,905 119.4,915.2 122.0,925.4 116.5,925.4"/>
<text x="128.6" y="922.4" font-size="22" font-weight="bold" textLength="227.3" lengthAdjust="spacingAndGlyphs">Medium temperature</text>
<polygon points="367,905 361.5,905 364.1,915.2 361.5,925.4 367,925.4"/>
<text x="384.7" y="922.4" font-size="22.5" fill="#1c2b47" textLength="72.8" lengthAdjust="spacingAndGlyphs">≤600°C</text>
</g>
</svg>
</body></html>
